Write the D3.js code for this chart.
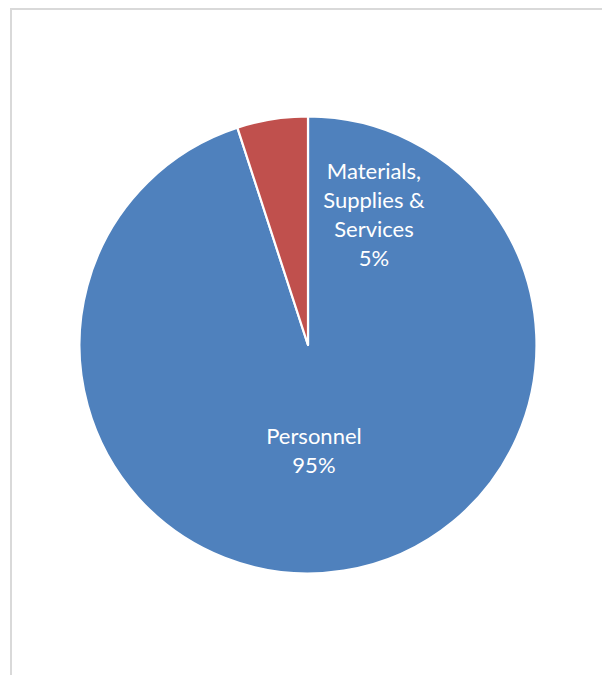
<!DOCTYPE html>
<html>
<head>
<meta charset="utf-8">
<script src="https://cdn.jsdelivr.net/npm/d3@7"></script>
<style>
  html, body { margin: 0; padding: 0; background: #fff; }
  svg { display: block; }
</style>
</head>
<body>
<svg id="chart" width="602" height="675"></svg>
<script>
// Budget split by expense category
const categories = ["Personnel", "Materials, Supplies & Services"];
const shares = [95, 5];
const labelLines = [["Personnel", "95%"], ["Materials,", "Supplies &", "Services", "5%"]];
const colors = ["#4f81bd", "#c0504d"];

// Label placement: angle (degrees clockwise from 12 o'clock) and radius fraction
const labelAnchors = [
  { angle: 176.8, r: 0.465 },
  { angle: 26.9, r: 0.638 }
];

const svg = d3.select("#chart");
const W = 602, H = 675;

// chart frame
svg.append("rect")
  .attr("x", 11).attr("y", 9)
  .attr("width", W + 20).attr("height", H + 20)
  .attr("fill", "#fff")
  .attr("stroke", "#d9d9d9")
  .attr("stroke-width", 2);

const cx = 308, cy = 345, R = 228.5;

const pie = d3.pie().sort(null).value(d => d)(shares);
const arc = d3.arc().innerRadius(0).outerRadius(R);

const g = svg.append("g").attr("transform", `translate(${cx},${cy})`);

g.selectAll("path.slice")
  .data(pie)
  .join("path")
  .attr("class", "slice")
  .attr("d", arc)
  .attr("fill", (d, i) => colors[i])
  .attr("stroke", "#fff")
  .attr("stroke-width", 2.2)
  .attr("stroke-linejoin", "round");

const lineH = 29;
g.selectAll("text.lbl")
  .data(categories)
  .join("text")
  .attr("class", "lbl")
  .attr("text-anchor", "middle")
  .attr("fill", "#fff")
  .attr("font-family", "Lato, 'Open Sans', sans-serif")
  .attr("font-size", 22)
  .each(function (d, i) {
    const a = labelAnchors[i].angle * Math.PI / 180;
    const rr = labelAnchors[i].r * R;
    const x = Math.sin(a) * rr;
    const y = -Math.cos(a) * rr;
    const lines = labelLines[i];
    const y0 = y - (lines.length - 1) * lineH / 2;
    d3.select(this).selectAll("tspan")
      .data(lines)
      .join("tspan")
      .attr("x", x)
      .attr("y", (t, j) => y0 + j * lineH)
      .attr("dy", "0.35em")
      .text(t => t);
  });
</script>
</body>
</html>
